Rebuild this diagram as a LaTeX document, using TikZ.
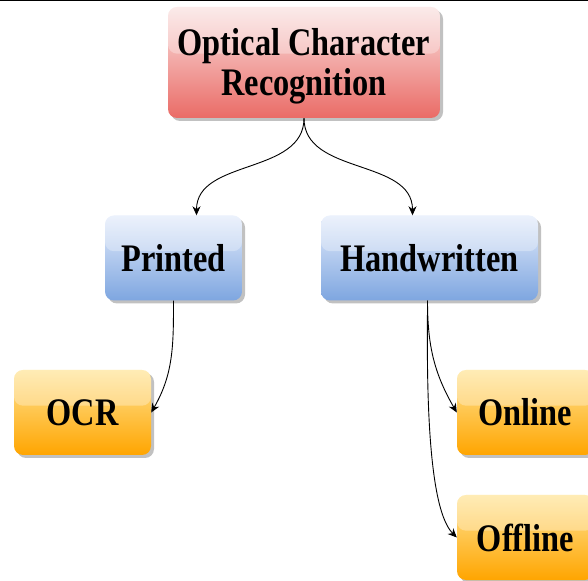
\documentclass[tikz,border=0pt]{standalone}
\usepackage{fontspec}
\setmainfont{Liberation Serif}[FakeStretch=0.83]
\usetikzlibrary{shadows,arrows.meta,calc}
\tikzstyle{gbox} = [rounded corners=9pt, align=center, inner sep=0pt,
    minimum width=137pt, minimum height=85pt,
    font=\bfseries\fontsize{39}{40}\selectfont,
    drop shadow={shadow xshift=3pt,shadow yshift=-3pt,opacity=0.35,fill=black!70},
    path picture={\fill[white,opacity=0.3] (path picture bounding box.north west) rectangle ($(path picture bounding box.north east)!0.42!(path picture bounding box.south east)$);}
]
\tikzstyle{redbox} = [gbox, top color={rgb,255:red,250;green,226;blue,225}, middle color={rgb,255:red,242;green,160;blue,157}, bottom color={rgb,255:red,234;green,107;blue,102}]
\tikzstyle{bluebox} = [gbox, top color={rgb,255:red,228;green,236;blue,251}, middle color={rgb,255:red,176;green,201;blue,239}, bottom color={rgb,255:red,126;green,166;blue,224}]
\tikzstyle{orangebox} = [gbox, top color={rgb,255:red,255;green,228;blue,150}, middle color={rgb,255:red,255;green,195;blue,50}, bottom color={rgb,255:red,255;green,165;blue,0}]
\tikzstyle{conn} = [draw, line width=0.9pt, -{Stealth[length=9pt,width=8pt]}]

\begin{document}
\begin{tikzpicture}[x=1pt,y=1pt]
	\clip (0,0) rectangle (588,580);
	\draw[line width=3pt] (0,580) -- (588,580);

	\node(root) at (304,517.5) [redbox, minimum width=272pt, minimum height=111pt] {\rule{0pt}{35pt}Optical Character\\Recognition};
	\node(printed) at (173.5,322) [bluebox] {Printed};
	\node(handwritten) at (429.5,322) [bluebox, minimum width=217pt] {Handwritten};

	\node(ocr) at (82.5,167.5) [orangebox] {OCR};
	\node(online) at (525.5,167.5) [orangebox] {Online};
	\node(offline) at (525.5,42.5) [orangebox] {Offline};

	\draw[conn] (root.south) to[out=-90,in=90] ([xshift=23pt]printed.north);
	\draw[conn] (root.south) to[out=-90,in=90] ([xshift=-17pt]handwritten.north);
	\draw[conn] (printed.south) to[out=-90,in=60] (ocr.east);
	\draw[conn] ([xshift=-2pt]handwritten.south) to[out=-90,in=120] (online.west);
	\draw[conn] ([xshift=-2pt]handwritten.south) to[out=-90,in=135,looseness=0.5] (offline.west);
\end{tikzpicture}
\end{document}
